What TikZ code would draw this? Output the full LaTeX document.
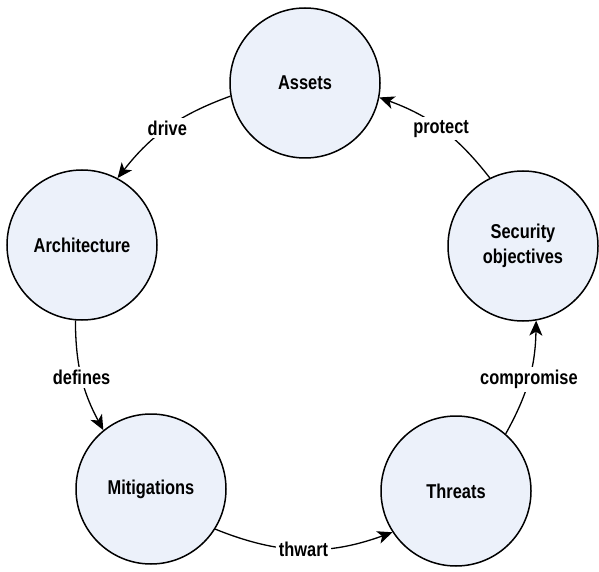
\documentclass[tikz,border=0pt]{standalone}
\usepackage{fontspec}
\setmainfont{Liberation Sans}[FakeStretch=0.82]
\usepackage{xcolor}
\usetikzlibrary{arrows.meta}
\definecolor{cyclefill}{RGB}{236,241,250}

\tikzset{
  stage/.style={circle,draw,line width=1.5pt,fill=cyclefill,minimum size=150pt,inner sep=0pt,align=center,font=\fontsize{20}{25}\selectfont\bfseries},
  flow/.style={line width=1.3pt,-{Stealth[length=15pt,width=13pt,inset=4pt]}},
  verb/.style={fill=white,inner sep=3pt,font=\fontsize{20}{24}\selectfont\bfseries},
}

\begin{document}
\begin{tikzpicture}[x=1pt,y=1pt]
\useasboundingbox (0,0) rectangle (599,571);

%Shape: Circle [assets]
\node[stage] (assets) at (305,488) {Assets};
%Shape: Circle [arch]
\node[stage] (arch) at (82,326) {Architecture};
%Shape: Circle [secobj]
\node[stage] (secobj) at (523,325) {Security\\objectives};
%Shape: Circle [mitig]
\node[stage] (mitig) at (151,82) {Mitigations};
%Shape: Circle [threat]
\node[stage] (threat) at (456,80) {Threats};

%Curve Lines [drive]
\draw[flow] (assets.190) to[bend right=16] node[verb] {drive} (arch.62);
%Curve Lines [defines]
\draw[flow] (arch.265) to[bend right=14] node[verb] {defines} (mitig.129);
%Curve Lines [thwart]
\draw[flow] (mitig.328) to[bend right=21] node[verb] {thwart} (threat.213);
%Curve Lines [compromise]
\draw[flow] (threat.49) to[bend right=14] node[verb] {compromise} (secobj.280);
%Curve Lines [protect]
\draw[flow] (secobj.116) to[bend right=16] node[verb] {protect} (assets.349);

\end{tikzpicture}
\end{document}
